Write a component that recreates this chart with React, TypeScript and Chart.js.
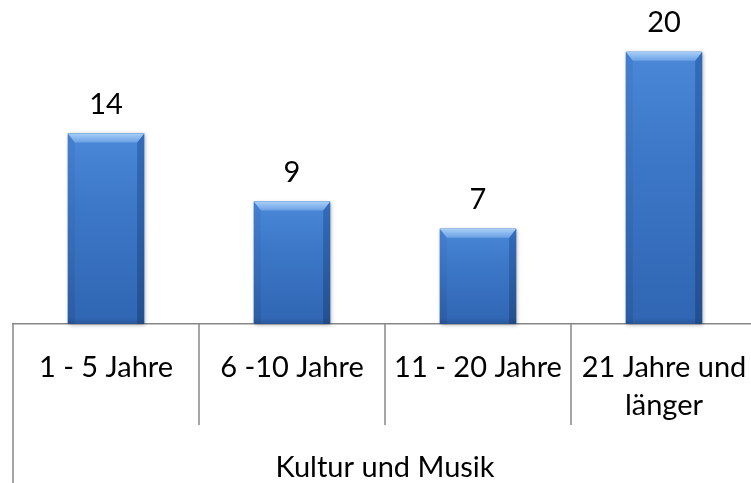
import React, { useEffect, useRef } from "react";
import { Chart, registerables } from "chart.js";

Chart.register(...registerables);

const categories: (string | string[])[] = [
  "1 - 5 Jahre",
  "6 -10 Jahre",
  "11 - 20 Jahre",
  ["21 Jahre und", "länger"],
];
const values: number[] = [14, 9, 7, 20];
const groupLabel = "Kultur und Musik";

const FONT = "Lato, 'Open Sans', sans-serif";
const LINE = "#878787";

const bevelPlugin = {
  id: "bevelBars",
  afterDatasetsDraw(chart: any) {
    const ctx: CanvasRenderingContext2D = chart.ctx;
    const meta = chart.getDatasetMeta(0);
    meta.data.forEach((el: any) => {
      const { x, y, base, width } = el.getProps(["x", "y", "base", "width"], true);
      const l = x - width / 2;
      const r = x + width / 2;
      const t = y;
      const bt = base;
      const b = 9;
      const s = 7;
      ctx.save();
      ctx.shadowColor = "rgba(0,0,0,0.3)";
      ctx.shadowBlur = 4;
      ctx.shadowOffsetX = 1;
      ctx.shadowOffsetY = 1;
      const g = ctx.createLinearGradient(0, t, 0, bt);
      g.addColorStop(0, "#4b88d8");
      g.addColorStop(0.4, "#3c77c7");
      g.addColorStop(1, "#3066b3");
      ctx.fillStyle = g;
      ctx.fillRect(l, t, width, bt - t);
      ctx.shadowColor = "transparent";
      const gl = ctx.createLinearGradient(0, t, 0, bt);
      gl.addColorStop(0, "#4580d0");
      gl.addColorStop(1, "#2b5ca3");
      ctx.fillStyle = gl;
      ctx.beginPath();
      ctx.moveTo(l, t);
      ctx.lineTo(l + s, t + b);
      ctx.lineTo(l + s, bt);
      ctx.lineTo(l, bt);
      ctx.closePath();
      ctx.fill();
      const gr = ctx.createLinearGradient(0, t, 0, bt);
      gr.addColorStop(0, "#336cba");
      gr.addColorStop(1, "#234f8e");
      ctx.fillStyle = gr;
      ctx.beginPath();
      ctx.moveTo(r, t);
      ctx.lineTo(r - s, t + b);
      ctx.lineTo(r - s, bt);
      ctx.lineTo(r, bt);
      ctx.closePath();
      ctx.fill();
      const gt = ctx.createLinearGradient(0, t, 0, t + b);
      gt.addColorStop(0, "#a8cff7");
      gt.addColorStop(1, "#6aa0e5");
      ctx.fillStyle = gt;
      ctx.beginPath();
      ctx.moveTo(l, t);
      ctx.lineTo(r, t);
      ctx.lineTo(r - s, t + b);
      ctx.lineTo(l + s, t + b);
      ctx.closePath();
      ctx.fill();
      const gb = ctx.createLinearGradient(0, bt - 6, 0, bt);
      gb.addColorStop(0, "rgba(30,60,110,0)");
      gb.addColorStop(1, "rgba(30,60,110,0.4)");
      ctx.fillStyle = gb;
      ctx.fillRect(l, bt - 6, width, 6);
      ctx.restore();
    });
  },
  afterDraw(chart: any) {
    const ctx: CanvasRenderingContext2D = chart.ctx;
    const xs = chart.scales.x;
    const area = chart.chartArea;
    const n = categories.length;
    const step = n > 1 ? xs.getPixelForValue(1) - xs.getPixelForValue(0) : area.right - area.left;
    ctx.save();
    ctx.strokeStyle = LINE;
    ctx.lineWidth = 1.5;
    for (let i = 0; i <= n; i++) {
      const px = xs.getPixelForValue(0) - step / 2 + i * step;
      ctx.beginPath();
      ctx.moveTo(px, area.bottom);
      ctx.lineTo(px, i === 0 ? chart.height : area.bottom + 101);
      ctx.stroke();
    }
    const meta = chart.getDatasetMeta(0);
    ctx.fillStyle = "#000";
    ctx.font = `29px ${FONT}`;
    ctx.textAlign = "center";
    ctx.textBaseline = "middle";
    meta.data.forEach((el: any, i: number) => {
      ctx.fillText(String(values[i]), el.x, el.y - 29);
    });
    ctx.restore();
  },
};

export default function App() {
  const ref = useRef<HTMLCanvasElement | null>(null);
  useEffect(() => {
    if (!ref.current) return;
    const chart = new Chart(ref.current, {
      type: "bar",
      data: {
        labels: categories,
        datasets: [
          {
            data: values,
            backgroundColor: "#3d74c2",
            barPercentage: 0.41,
            categoryPercentage: 1,
          },
        ],
      },
      options: {
        animation: false,
        responsive: false,
        maintainAspectRatio: false,
        devicePixelRatio: 1,
        layout: { padding: { left: 13, right: 13, top: 11, bottom: 0 } },
        plugins: { legend: { display: false }, tooltip: { enabled: false } },
        scales: {
          y: { display: false, min: 0, max: 23 },
          x: {
            afterFit: (s: any) => {
              s.height = 159;
            },
            grid: { display: false },
            border: { display: true, color: LINE, width: 1.5 },
            ticks: {
              color: "#000",
              font: { family: FONT, size: 29, lineHeight: 1.3 },
              padding: 17,
              maxRotation: 0,
              autoSkip: false,
            },
            title: {
              display: true,
              text: groupLabel,
              color: "#000",
              font: { family: FONT, size: 29, lineHeight: 1.2 },
              padding: { top: 0, bottom: -2 },
            },
          },
        },
      },
      plugins: [bevelPlugin],
    });
    return () => chart.destroy();
  }, []);
  return (
    <div style={{ position: "fixed", left: 0, top: 0, width: 770, height: 483, background: "#fff", overflow: "hidden" }}>
      <canvas ref={ref} width={770} height={483} style={{ display: "block" }} />
    </div>
  );
}
